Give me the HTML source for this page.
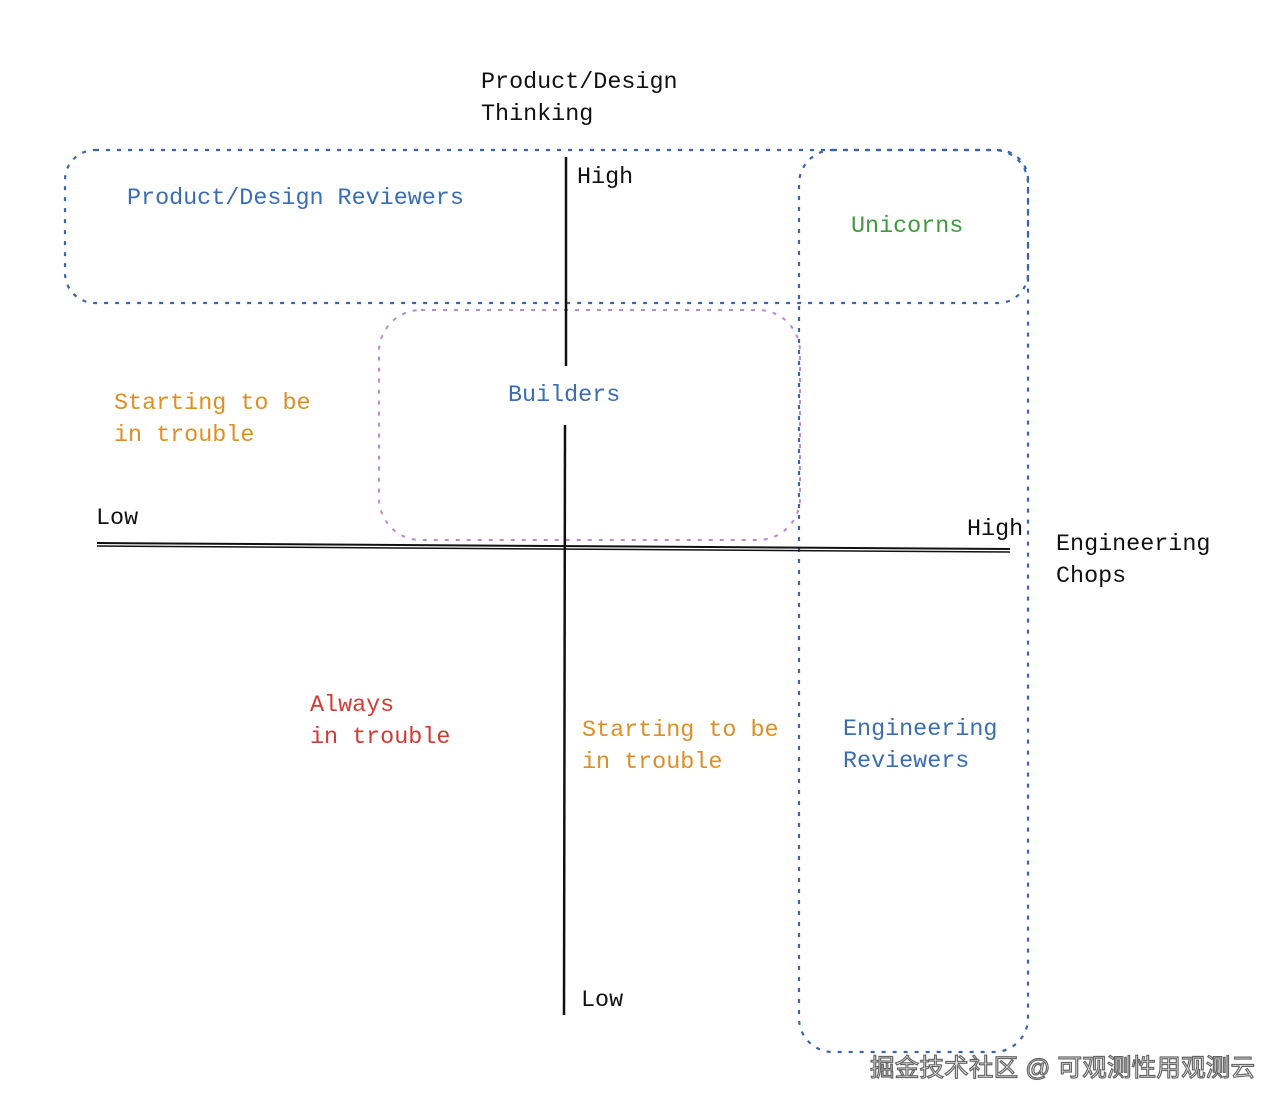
<!DOCTYPE html>
<html><head><meta charset="utf-8"><style>
html,body{margin:0;padding:0;background:#fff;}
svg{display:block}
text{font-family:"Liberation Mono",monospace;font-size:23.4px;}
</style></head><body>
<svg width="1284" height="1110" viewBox="0 0 1284 1110" xmlns="http://www.w3.org/2000/svg">
<rect x="65" y="150" width="963" height="153" rx="30" fill="none" stroke="#3a64b0" stroke-width="2.2" stroke-dasharray="4 7"/>
<rect x="799" y="150" width="229" height="902" rx="34" fill="none" stroke="#3a64b0" stroke-width="2.2" stroke-dasharray="4 7"/>
<rect x="379" y="310" width="421" height="230" rx="42" fill="none" stroke="#b98bd0" stroke-width="2" stroke-dasharray="4 7"/>
<line x1="566" y1="157" x2="566" y2="366" stroke="#111" stroke-width="2.5"/>
<line x1="565" y1="425" x2="564" y2="1015" stroke="#111" stroke-width="2.5"/>
<line x1="97" y1="543" x2="1010" y2="549" stroke="#111" stroke-width="2"/>
<line x1="97" y1="546" x2="1010" y2="552" stroke="#111" stroke-width="1.5"/>
<text x="481" y="88" fill="#111">Product/Design</text>
<text x="481" y="120" fill="#111">Thinking</text>
<text x="577" y="183" fill="#111">High</text>
<text x="127" y="204" fill="#3a6db5">Product/Design Reviewers</text>
<text x="851" y="232" fill="#3e9a3e">Unicorns</text>
<text x="508" y="401" fill="#3a6db5">Builders</text>
<text x="114" y="409" fill="#de8f24">Starting to be</text>
<text x="114" y="441" fill="#de8f24">in trouble</text>
<text x="96" y="524" fill="#111">Low</text>
<text x="967" y="535" fill="#111">High</text>
<text x="1056" y="550" fill="#111">Engineering</text>
<text x="1056" y="582" fill="#111">Chops</text>
<text x="310" y="711" fill="#d33a35">Always</text>
<text x="310" y="743" fill="#d33a35">in trouble</text>
<text x="582" y="736" fill="#de8f24">Starting to be</text>
<text x="582" y="768" fill="#de8f24">in trouble</text>
<text x="843" y="735" fill="#3a6db5">Engineering</text>
<text x="843" y="767" fill="#3a6db5">Reviewers</text>
<text x="581" y="1006" fill="#111">Low</text>
<text x="870" y="1076" fill="#fff" stroke="#666" stroke-width="1.2" textLength="385" style="font-family:'Liberation Sans','Noto Sans CJK SC',sans-serif;font-size:24.5px">掘金技术社区 @ 可观测性用观测云</text>
</svg>
</body></html>
